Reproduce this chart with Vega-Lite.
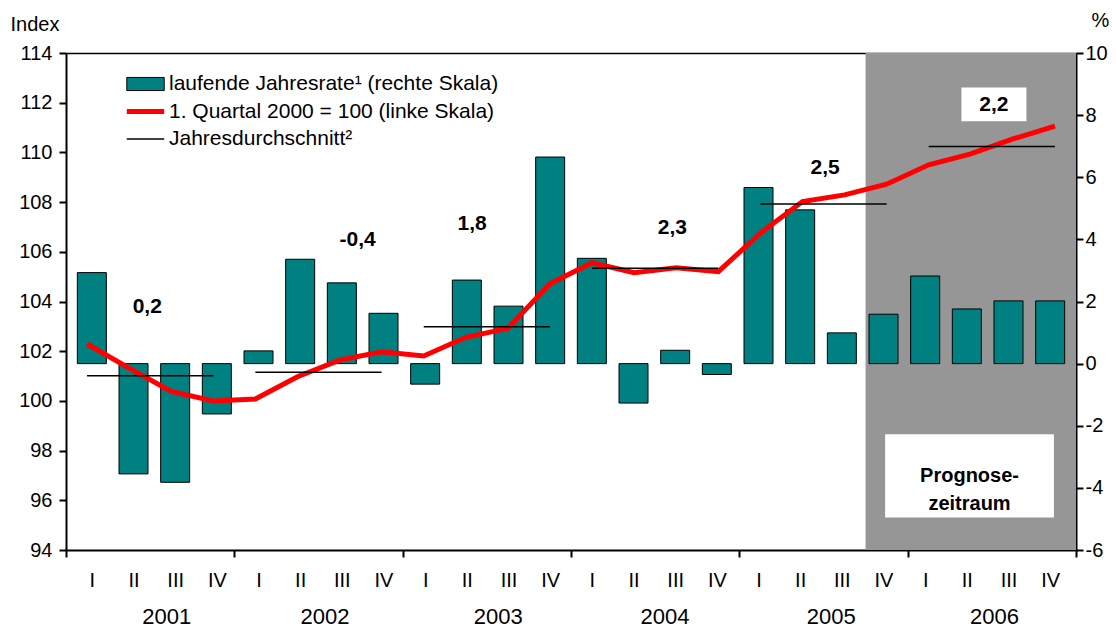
{
  "$schema": "https://vega.github.io/schema/vega-lite/v6.json",
  "width": 1010,
  "height": 497,
  "autosize": {"type": "none"},
  "padding": {"left": 66, "top": 53, "right": 40, "bottom": 77},
  "background": "white",
  "config": {
    "font": "Liberation Sans",
    "view": {"stroke": null},
    "axis": {
      "labelFont": "Liberation Sans", "labelFontSize": 20, "labelColor": "#000",
      "domainColor": "#000", "tickColor": "#000", "grid": false,
      "titleFont": "Liberation Sans", "titleColor": "#000", "titleFontWeight": "normal", "titleFontSize": 20,
      "zindex": 1, "labelFlush": false, "labelOverlap": false, "labelBound": false
    },
    "legend": {
      "orient": "none", "legendX": 58, "legendY": 20, "title": null, "padding": 0,
      "labelFontSize": 21, "labelFont": "Liberation Sans", "labelColor": "#000", "labelLimit": 600, "labelOffset": 2,
      "symbolSize": 1400, "clipHeight": 22, "rowPadding": 5.5, "symbolOpacity": 1
    }
  },
  "resolve": {"scale": {"x": "independent", "y": "independent"}},
  "layer": [
    {
      "data": {"values": [{"start": 19.5, "end": 24.5}]},
      "mark": {"type": "rect", "color": "#969696"},
      "encoding": {
        "x": {"field": "start", "type": "quantitative",
          "scale": {"domain": [0.5, 24.5], "nice": false, "zero": false},
          "axis": {"orient": "bottom", "values": [0.5, 4.5, 8.5, 12.5, 16.5, 20.5, 24.5], "labels": false,
            "ticks": true, "tickSize": 7, "tickWidth": 2, "domain": true, "domainWidth": 2, "title": null}},
        "x2": {"field": "end"}
      }
    },
    {
      "data": {"values": [
        {"q": 1, "rate": 2.93}, {"q": 2, "rate": -3.55}, {"q": 3, "rate": -3.82}, {"q": 4, "rate": -1.62},
        {"q": 5, "rate": 0.41}, {"q": 6, "rate": 3.36}, {"q": 7, "rate": 2.6}, {"q": 8, "rate": 1.62},
        {"q": 9, "rate": -0.66}, {"q": 10, "rate": 2.69}, {"q": 11, "rate": 1.85}, {"q": 12, "rate": 6.65},
        {"q": 13, "rate": 3.39}, {"q": 14, "rate": -1.27}, {"q": 15, "rate": 0.43}, {"q": 16, "rate": -0.35},
        {"q": 17, "rate": 5.67}, {"q": 18, "rate": 4.95}, {"q": 19, "rate": 0.99}, {"q": 20, "rate": 1.59},
        {"q": 21, "rate": 2.82}, {"q": 22, "rate": 1.76}, {"q": 23, "rate": 2.02}, {"q": 24, "rate": 2.02}
      ]},
      "mark": {"type": "bar", "width": 29, "fill": "#008080", "stroke": "#000", "strokeWidth": 1, "orient": "vertical", "opacity": 1},
      "encoding": {
        "x": {"field": "q", "type": "quantitative",
          "scale": {"domain": [0.5, 24.5], "nice": false, "zero": false},
          "axis": {"orient": "bottom", "values": [1,2,3,4,5,6,7,8,9,10,11,12,13,14,15,16,17,18,19,20,21,22,23,24],
            "labelExpr": "['I','II','III','IV'][(datum.value - 1) % 4]",
            "ticks": false, "domain": false, "labelPadding": 20, "labelFontSize": 20, "title": null}},
        "y": {"field": "rate", "type": "quantitative",
          "scale": {"domain": [-6, 10], "nice": false, "zero": false},
          "axis": {"orient": "right", "values": [-6, -4, -2, 0, 2, 4, 6, 8, 10], "labelExpr": "'' + datum.value",
            "tickSize": 7, "tickWidth": 2,
            "domainWidth": 2, "labelPadding": 2, "title": "%", "titleAngle": 0, "titleX": 15, "titleY": -33,
            "titleAlign": "left", "titleBaseline": "middle"}},
        "y2": {"datum": 0}
      }
    },
    {
      "data": {"values": [
        {"q": 1, "index": 102.29}, {"q": 2, "index": 101.32}, {"q": 3, "index": 100.38}, {"q": 4, "index": 100.0},
        {"q": 5, "index": 100.08}, {"q": 6, "index": 100.97}, {"q": 7, "index": 101.64}, {"q": 8, "index": 101.98},
        {"q": 9, "index": 101.81}, {"q": 10, "index": 102.56}, {"q": 11, "index": 102.92}, {"q": 12, "index": 104.71},
        {"q": 13, "index": 105.56}, {"q": 14, "index": 105.16}, {"q": 15, "index": 105.36}, {"q": 16, "index": 105.2},
        {"q": 17, "index": 106.75}, {"q": 18, "index": 108.02}, {"q": 19, "index": 108.29}, {"q": 20, "index": 108.72},
        {"q": 21, "index": 109.5}, {"q": 22, "index": 109.94}, {"q": 23, "index": 110.54}, {"q": 24, "index": 111.06}
      ]},
      "mark": {"type": "line", "color": "#ff0000", "strokeWidth": 5},
      "encoding": {
        "x": {"field": "q", "type": "quantitative",
          "scale": {"domain": [0.5, 24.5], "nice": false, "zero": false},
          "axis": {"orient": "bottom", "values": [2.88, 6.64, 10.76, 14.72, 18.67, 22.55],
            "labelExpr": "'' + (2001 + floor((datum.value - 0.5) / 4))",
            "ticks": false, "domain": false, "labelPadding": 56, "labelFontSize": 22, "title": null}},
        "y": {"field": "index", "type": "quantitative",
          "scale": {"domain": [94, 114], "nice": false, "zero": false},
          "axis": {"orient": "left", "values": [94, 96, 98, 100, 102, 104, 106, 108, 110, 112, 114],
            "tickSize": 7, "tickWidth": 2, "domainWidth": 2, "labelPadding": 7,
            "title": "Index", "titleAngle": 0, "titleX": -56, "titleY": -29,
            "titleAlign": "left", "titleBaseline": "middle"}}
      }
    },
    {
      "data": {"values": [
        {"year": 2001, "q1": 1, "q2": 4, "avg": 101.01},
        {"year": 2002, "q1": 5, "q2": 8, "avg": 101.15},
        {"year": 2003, "q1": 9, "q2": 12, "avg": 102.98},
        {"year": 2004, "q1": 13, "q2": 16, "avg": 105.34},
        {"year": 2005, "q1": 17, "q2": 20, "avg": 107.92},
        {"year": 2006, "q1": 21, "q2": 24, "avg": 110.24}
      ]},
      "mark": {"type": "rule", "color": "#000", "strokeWidth": 1.5},
      "encoding": {
        "x": {"field": "q1", "type": "quantitative", "scale": {"domain": [0.5, 24.5], "nice": false, "zero": false}, "axis": null},
        "x2": {"field": "q2"},
        "y": {"field": "avg", "type": "quantitative", "scale": {"domain": [94, 114], "nice": false, "zero": false}, "axis": null}
      }
    },
    {
      "data": {"values": [{"t": 22.55, "y": 111.93}]},
      "mark": {"type": "point", "shape": "M-1,-0.52H1V0.52H-1Z", "size": 4225, "filled": true, "fill": "#fff", "opacity": 1, "strokeWidth": 0},
      "encoding": {
        "x": {"field": "t", "type": "quantitative", "scale": {"domain": [0.5, 24.5], "nice": false, "zero": false}, "axis": null},
        "y": {"field": "y", "type": "quantitative", "scale": {"domain": [94, 114], "nice": false, "zero": false}, "axis": null}
      }
    },
    {
      "data": {"values": [
        {"t": 2.43, "y": 103.78, "label": "0,2"},
        {"t": 7.43, "y": 106.46, "label": "-0,4"},
        {"t": 10.15, "y": 107.1, "label": "1,8"},
        {"t": 14.91, "y": 106.96, "label": "2,3"},
        {"t": 18.54, "y": 109.38, "label": "2,5"},
        {"t": 22.55, "y": 111.9, "label": "2,2"}
      ]},
      "mark": {"type": "text", "fontWeight": "bold", "fontSize": 21, "align": "center", "baseline": "middle", "color": "#000"},
      "encoding": {
        "x": {"field": "t", "type": "quantitative", "scale": {"domain": [0.5, 24.5], "nice": false, "zero": false}, "axis": null},
        "y": {"field": "y", "type": "quantitative", "scale": {"domain": [94, 114], "nice": false, "zero": false}, "axis": null},
        "text": {"field": "label"}
      }
    },
    {
      "data": {"values": [{"t": 21.97, "y": 96.98, "label": "Prognose-\nzeitraum"}]},
      "mark": {"type": "point", "shape": "M-1,-0.4935H1V0.4935H-1Z", "size": 28493, "filled": true, "fill": "#fff", "opacity": 1, "strokeWidth": 0},
      "encoding": {
        "x": {"field": "t", "type": "quantitative", "scale": {"domain": [0.5, 24.5], "nice": false, "zero": false},
          "axis": {"orient": "top", "labels": false, "ticks": false, "domain": true, "domainWidth": 1.5, "title": null, "values": []}},
        "y": {"field": "y", "type": "quantitative", "scale": {"domain": [94, 114], "nice": false, "zero": false}, "axis": null}
      }
    },
    {
      "data": {"values": [{"t": 21.97, "y": 96.98, "label": "Prognose-\nzeitraum"}]},
      "mark": {"type": "text", "fontWeight": "bold", "fontSize": 20, "lineBreak": "\n", "lineHeight": 28, "align": "center", "baseline": "middle", "color": "#000"},
      "encoding": {
        "x": {"field": "t", "type": "quantitative", "scale": {"domain": [0.5, 24.5], "nice": false, "zero": false}, "axis": null},
        "y": {"field": "y", "type": "quantitative", "scale": {"domain": [94, 114], "nice": false, "zero": false}, "axis": null},
        "text": {"field": "label"}
      }
    },
    {
      "data": {"values": [
        {"series": "laufende Jahresrate¹ (rechte Skala)"},
        {"series": "1. Quartal 2000 = 100 (linke Skala)"},
        {"series": "Jahresdurchschnitt²"}
      ]},
      "mark": {"type": "point", "opacity": 0},
      "encoding": {
        "fill": {"field": "series", "type": "nominal",
          "scale": {"domain": ["laufende Jahresrate¹ (rechte Skala)", "1. Quartal 2000 = 100 (linke Skala)", "Jahresdurchschnitt²"],
            "range": ["#008080", "transparent", "transparent"]}},
        "stroke": {"field": "series", "type": "nominal",
          "scale": {"domain": ["laufende Jahresrate¹ (rechte Skala)", "1. Quartal 2000 = 100 (linke Skala)", "Jahresdurchschnitt²"],
            "range": ["#000000", "#ff0000", "#000000"]}},
        "shape": {"field": "series", "type": "nominal",
          "scale": {"domain": ["laufende Jahresrate¹ (rechte Skala)", "1. Quartal 2000 = 100 (linke Skala)", "Jahresdurchschnitt²"],
            "range": ["M-1,-0.35H1V0.35H-1Z", "M-1,0H1", "M-1,0H1"]}},
        "strokeWidth": {"field": "series", "type": "nominal",
          "scale": {"type": "ordinal", "domain": ["laufende Jahresrate¹ (rechte Skala)", "1. Quartal 2000 = 100 (linke Skala)", "Jahresdurchschnitt²"],
            "range": [1, 5, 1.5]}}
      }
    }
  ]
}
